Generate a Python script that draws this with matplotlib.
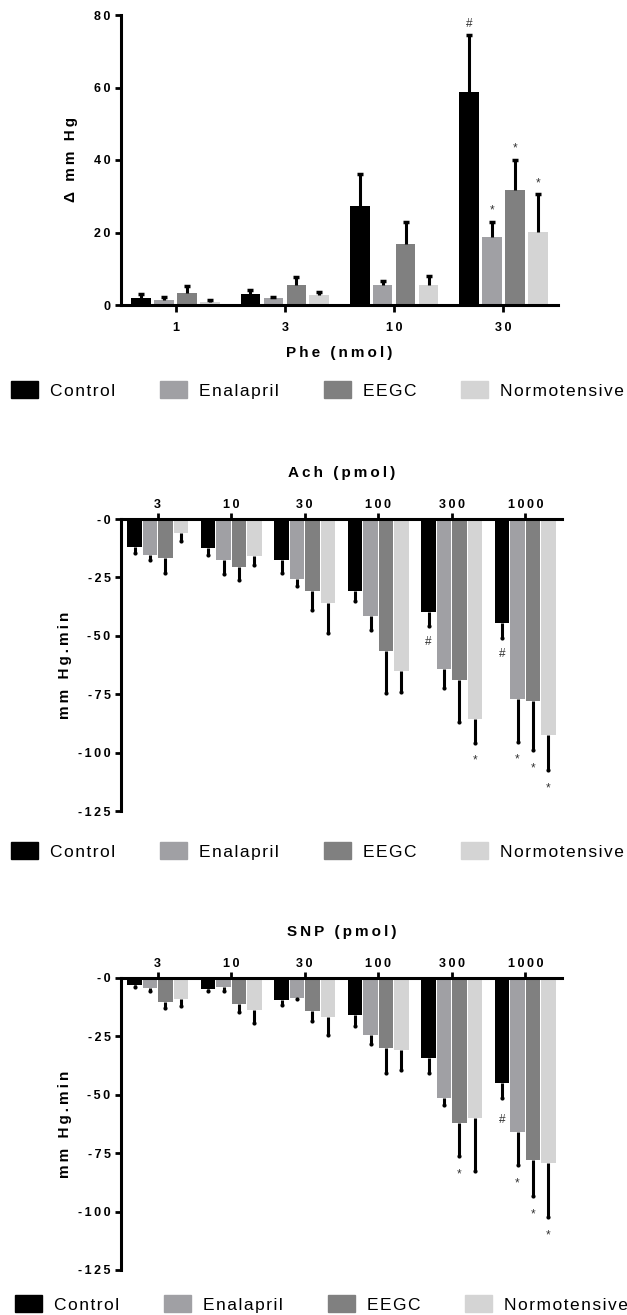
import numpy as np
import matplotlib.pyplot as plt
from matplotlib.patches import Patch

plt.rcParams['font.family'] = ['Liberation Sans', 'DejaVu Sans']

series = ['Control', 'Enalapril', 'EEGC', 'Normotensive']
colors = ['#000000', '#a0a0a4', '#808080', '#d4d4d4']

# Phe (nmol) - pressor response, mean and SEM per series
phe_doses = ['1', '3', '10', '30']
phe_mean = [[2.0, 2.9, 27.4, 58.8],
            [1.4, 2.0, 5.4, 18.7],
            [3.4, 5.4, 16.8, 31.7],
            [0.9, 2.7, 5.4, 20.2]]
phe_sem = [[0.9, 1.2, 8.7, 15.7],
           [0.8, 0.3, 1.2, 4.3],
           [1.8, 2.3, 6.2, 8.3],
           [0.4, 0.9, 2.6, 10.3]]
phe_marks = [(3, 0, '#'), (3, 1, '*'), (3, 2, '*'), (3, 3, '*')]
phe_yticks = [0, 20, 40, 60, 80]

# Ach (pmol)
ach_doses = ['3', '10', '30', '100', '300', '1000']
ach_mean = [[-12.0, -12.4, -17.7, -30.7, -40.0, -44.6],
            [-15.6, -17.4, -25.7, -41.7, -64.3, -77.1],
            [-16.7, -20.6, -30.7, -56.4, -68.9, -77.7],
            [-6.2, -16.0, -36.0, -65.0, -85.7, -92.3]]
ach_sem = [[2.6, 2.9, 5.4, 4.2, 6.0, 6.4],
           [2.1, 6.0, 3.0, 6.0, 7.9, 18.2],
           [6.4, 5.7, 8.2, 18.0, 17.8, 21.2],
           [3.1, 3.6, 12.6, 8.9, 10.0, 15.1]]
ach_marks = [(4, 0, '#'), (4, 3, '*'), (5, 0, '#'), (5, 1, '*'), (5, 2, '*'), (5, 3, '*')]

# SNP (pmol)
snp_doses = ['3', '10', '30', '100', '300', '1000']
snp_mean = [[-3.0, -4.9, -9.4, -15.8, -34.4, -45.1],
            [-4.1, -4.0, -8.4, -24.4, -51.4, -66.1],
            [-10.3, -11.1, -14.1, -30.1, -61.9, -77.9],
            [-9.1, -13.7, -16.8, -30.9, -59.8, -79.3]]
snp_sem = [[0.7, 0.8, 2.2, 4.7, 6.1, 6.1],
           [1.3, 1.4, 0.4, 3.9, 3.1, 14.0],
           [2.7, 3.5, 4.2, 10.7, 14.1, 15.4],
           [2.9, 5.7, 7.6, 8.5, 22.7, 22.9]]
snp_marks = [(4, 2, '*'), (5, 0, '#'), (5, 1, '*'), (5, 2, '*'), (5, 3, '*')]

neg_yticks = [0, -25, -50, -75, -100, -125]
neg_yticklabels = ['-0', '-25', '-50', '-75', '-100', '-125']

offsets = [-0.315, -0.105, 0.105, 0.315]


def track(s, sp='\u2009'):
    # wide letter spacing like the Prism export
    return sp.join(s)


def draw_bars(ax, means, sems, marks, width, cap, ms, mew, mark_off):
    x = np.arange(len(means[0]))
    ends = []
    for i in range(len(series)):
        m = np.array(means[i])
        s = np.array(sems[i])
        xs = x + offsets[i]
        ax.bar(xs, m, width, color=colors[i], zorder=2)
        end = m + np.sign(m) * s
        ax.vlines(xs, m, end, color='black', lw=2.2, zorder=3)
        ax.plot(xs, end, ls='none', marker=cap, ms=ms, mew=mew,
                color='black', zorder=4)
        ends.append((xs, end))
    for g, i, sym in marks:
        xs, end = ends[i]
        ax.annotate(sym, (xs[g], end[g]), xytext=(0, mark_off[sym]),
                    textcoords='offset points', ha='center', va='center',
                    fontsize=8.5, color='#333333')


def style_axes(ax):
    for side in ['left', 'right', 'top', 'bottom']:
        ax.spines[side].set_linewidth(2.2)
    ax.tick_params(width=2, length=4, labelsize=9)
    for lbl in ax.get_xticklabels() + ax.get_yticklabels():
        lbl.set_fontweight('bold')


def add_legend(fig, xpix, ypix):
    handles = [Patch(color=c) for c in colors]
    fig.legend(handles, [track(s, '\u200a') for s in series], loc='center left',
               bbox_to_anchor=(xpix / 627, 1 - ypix / 1315), ncol=4, frameon=False,
               fontsize=12.5, handlelength=1.55, handleheight=1.1,
               handletextpad=0.69, columnspacing=2.6, borderpad=0,
               borderaxespad=0)


fig = plt.figure(figsize=(6.27, 13.15), dpi=100)

# ---- panel 1: Phe
ax1 = fig.add_axes([121 / 627, 1 - 305 / 1315, 437 / 627, 290 / 1315])
draw_bars(ax1, phe_mean, phe_sem, phe_marks, 0.18, '_', 5, 2.5, {'#': 8, '*': 8})
ax1.set_xlim(-0.5, 3.5)
ax1.set_ylim(0, 80)
ax1.spines['top'].set_visible(False)
ax1.spines['right'].set_visible(False)
ax1.set_xticks(np.arange(len(phe_doses)))
ax1.set_xticklabels([track(d) for d in phe_doses])
ax1.set_yticks(phe_yticks)
ax1.set_yticklabels([track(str(v)) for v in phe_yticks])
style_axes(ax1)
ax1.tick_params(axis='x', length=5, pad=7)
ax1.set_xlabel(track('Phe (nmol)'), fontsize=11, fontweight='bold')
ax1.xaxis.set_label_coords(0.5, -48 / 290)
ax1.xaxis.label.set_va('center')
ax1.set_ylabel(track('\u0394 mm Hg'), fontsize=11, fontweight='bold')
ax1.yaxis.set_label_coords(-43 / 437, 0.5)
add_legend(fig, 11, 390)


def neg_panel(rect, doses, means, sems, marks, mark_off, title, leg_xy):
    ax = fig.add_axes(rect)
    draw_bars(ax, means, sems, marks, 0.195, 'o', 3, 0, mark_off)
    ax.set_xlim(-0.5, len(doses) - 0.5)
    ax.set_ylim(-125, 0)
    ax.spines['bottom'].set_visible(False)
    ax.spines['right'].set_visible(False)
    ax.xaxis.tick_top()
    ax.set_xticks(np.arange(len(doses)))
    ax.set_xticklabels([track(d) for d in doses])
    ax.set_yticks(neg_yticks)
    ax.set_yticklabels([track(t) for t in neg_yticklabels])
    style_axes(ax)
    ax.tick_params(axis='x', pad=2)
    ax.text(0.5, 1 + 46 / 292, track(title), transform=ax.transAxes,
            ha='center', va='center', fontsize=11, fontweight='bold')
    ax.set_ylabel(track('mm Hg.min'), fontsize=11, fontweight='bold')
    ax.yaxis.set_label_coords(-49 / 441, 0.5)
    add_legend(fig, *leg_xy)
    return ax


ax2 = neg_panel([121 / 627, 1 - 811 / 1315, 441 / 627, 292 / 1315],
                ach_doses, ach_mean, ach_sem, ach_marks, {'#': -11.5, '*': -13},
                'Ach (pmol)', (11, 851))
ax3 = neg_panel([121 / 627, 1 - 1270 / 1315, 441 / 627, 292 / 1315],
                snp_doses, snp_mean, snp_sem, snp_marks, {'#': -16, '*': -13.5},
                'SNP (pmol)', (15, 1304))

fig.savefig('out.png', dpi=100)
